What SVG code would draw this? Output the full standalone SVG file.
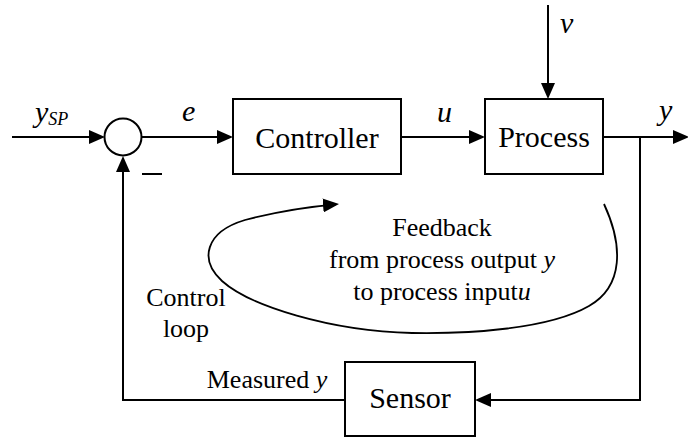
<svg xmlns="http://www.w3.org/2000/svg" width="688" height="437" viewBox="0 0 688 437">
  <style>
    text { font-family: 'Liberation Serif', 'Times New Roman', serif; fill: #000; }
    .box { fill: #fff; stroke: #000; stroke-width: 2; }
    .wire { fill: none; stroke: #000; stroke-width: 2; }
    .thin { fill: none; stroke: #000; stroke-width: 1.8; }
    .blk { font-size: 30px; text-anchor: middle; }
    .note { font-size: 26px; text-anchor: middle; }
    .var { font-size: 30px; font-style: italic; }
    .sub { font-size: 18px; font-style: italic; }
  </style>
  <defs>
    <marker id="arrow" viewBox="0 0 16 14" refX="13" refY="7" markerWidth="16" markerHeight="14" markerUnits="userSpaceOnUse" orient="auto">
      <path d="M0,0 L16,7 L0,14 z" fill="#000"/>
    </marker>
  </defs>

  <rect width="688" height="437" fill="#fff"/>

  <!-- signal lines -->
  <g id="connectors">
    <path class="wire" d="M12,137 H102" marker-end="url(#arrow)"/>
    <path class="wire" d="M141.5,137 H230" marker-end="url(#arrow)"/>
    <path class="wire" d="M401,137 H482" marker-end="url(#arrow)"/>
    <path class="wire" d="M548,5 V96" marker-end="url(#arrow)"/>
    <path class="wire" d="M603,137 H686" marker-end="url(#arrow)"/>
    <path class="wire" d="M640,137 V400 H478" marker-end="url(#arrow)"/>
    <path class="wire" d="M345,400 H123 V159" marker-end="url(#arrow)"/>
    <!-- control loop sketch -->
    <path class="thin" d="M604,204 C623,245 624,286 589,306 C549,329 470,334 412,333 C330,331 250,306 222,281 C199,260 205,232 245,220 C275,212 305,207 336,204.3" marker-end="url(#arrow)"/>
  </g>

  <g id="sum">
    <circle cx="123" cy="137" r="18.5" class="box"/>
    <line x1="142" y1="174" x2="162" y2="174" stroke="#000" stroke-width="2"/>
  </g>

  <g id="controller">
    <rect x="233" y="99" width="168" height="75" class="box"/>
    <text x="317" y="148" class="blk">Controller</text>
  </g>

  <g id="process">
    <rect x="485" y="99" width="118" height="75" class="box"/>
    <text x="544" y="147" class="blk">Process</text>
  </g>

  <g id="sensor">
    <rect x="345" y="362" width="130" height="74" class="box"/>
    <text x="410" y="408" class="blk">Sensor</text>
  </g>

  <!-- signal labels -->
  <g id="labels">
    <text x="35" y="122" class="var">y<tspan class="sub" dy="3">SP</tspan></text>
    <text x="182" y="121" class="var">e</text>
    <text x="437" y="122" class="var">u</text>
    <text x="560" y="33" class="var">v</text>
    <text x="659" y="120" class="var">y</text>
    <text x="442" y="236" class="note">Feedback</text>
    <text x="442" y="268" class="note">from process output <tspan font-style="italic">y</tspan></text>
    <text x="442" y="300" class="note">to process input<tspan font-style="italic">u</tspan></text>
    <text x="186" y="306" class="note">Control</text>
    <text x="186" y="337" class="note">loop</text>
    <text x="267" y="388" class="note">Measured <tspan font-style="italic">y</tspan></text>
  </g>
</svg>
